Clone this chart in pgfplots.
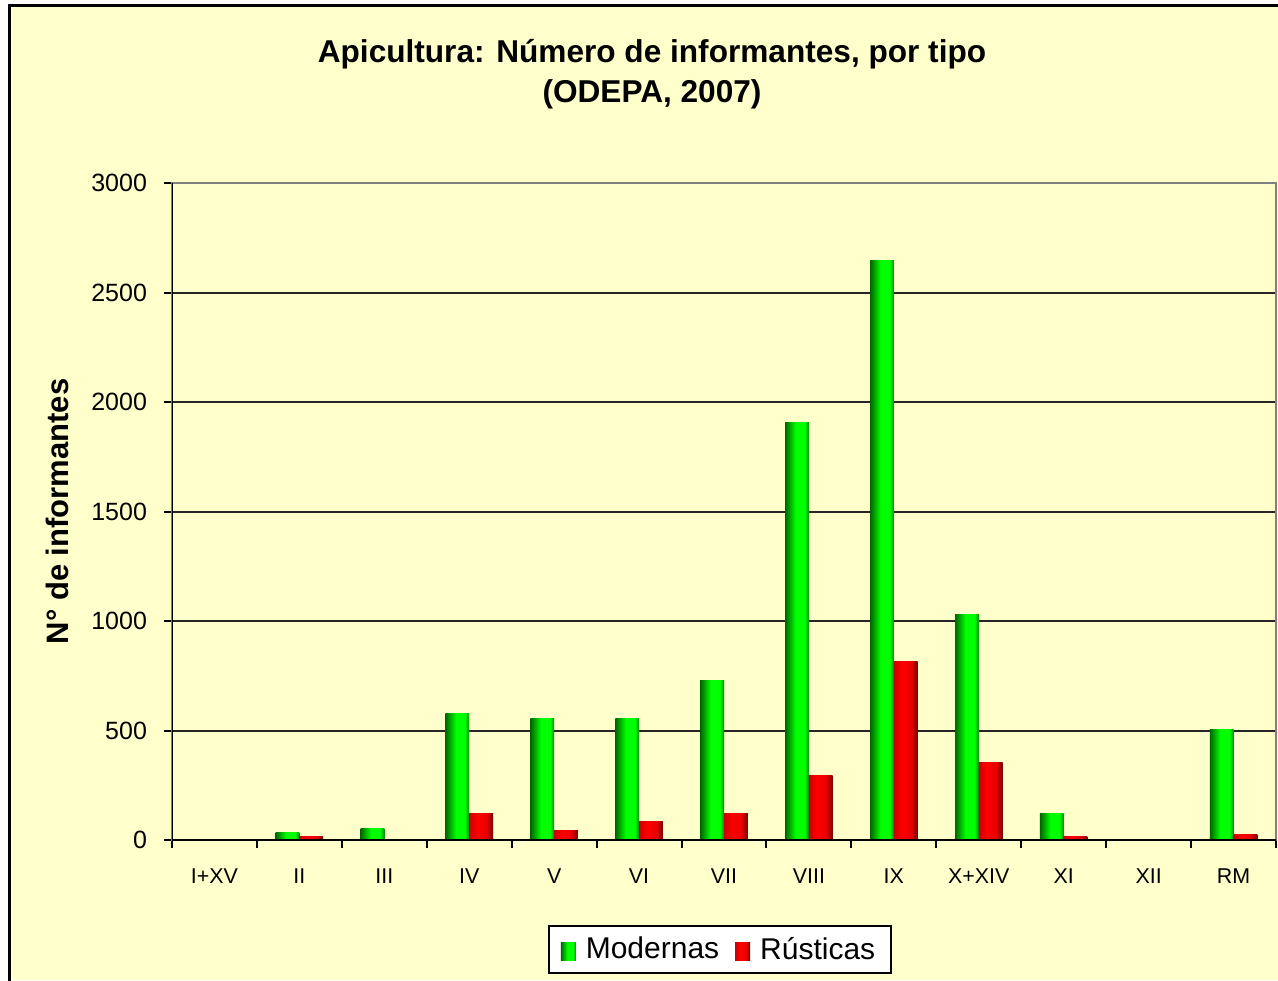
\documentclass[border=0pt]{standalone}
\usepackage{fontspec}
\setmainfont{Liberation Sans}
\usepackage{pgfplots}
\pgfplotsset{compat=1.18}

\definecolor{chartbg}{RGB}{255,255,204}
\definecolor{gridgray}{RGB}{128,128,128}
% bar gradients (the bar fills the 25bp..75bp band)
\pgfdeclarehorizontalshading{greenbar}{100bp}{color(0bp)=(green!40!black); color(25bp)=(green!40!black); color(47bp)=(green); color(66bp)=(green); color(75bp)=(green!55!black); color(100bp)=(green!55!black)}
\pgfdeclarehorizontalshading{redbar}{100bp}{color(0bp)=(red!80!black); color(25bp)=(red!80!black); color(42bp)=(red); color(62bp)=(red!90!black); color(75bp)=(red!45!black); color(100bp)=(red!45!black)}

\pgfplotsset{
  modernas/.style={ybar, bar shift=-0.14, draw=none, shade, shading=greenbar},
  rusticas/.style={ybar, bar shift=0.14, draw=none, shade, shading=redbar},
}
% one plot per bar, so each bar gets its own gradient
\newcommand{\gbar}[2]{\addplot[modernas, forget plot] coordinates {(#1,#2)};}
\newcommand{\rbar}[2]{\addplot[rusticas, forget plot] coordinates {(#1,#2)};}

\begin{document}
\begin{tikzpicture}
  % frame: 1px = 0.5pt
  \path[use as bounding box, fill=white] (0,0) rectangle (639pt,490pt);
  \fill[chartbg] (4.5pt,0) rectangle (639pt,487pt);
  \draw[black, line width=1.5pt] (4.5pt,-1pt) -- (4.5pt,487pt) -- (640pt,487pt);

  \node[font=\bfseries\fontsize{15.8}{18}\selectfont, anchor=base] at (326pt,458.5pt)
    {Apicultura: Número de informantes, por tipo};
  \node[font=\bfseries\fontsize{15.8}{18}\selectfont, anchor=base] at (326pt,438.5pt)
    {(ODEPA, 2007)};

  \begin{axis}[
    at={(86pt,70pt)}, anchor=south west,
    scale only axis, width=552pt, height=328.5pt,
    bar width=0.28,
    xmin=-0.5, xmax=12.5,
    ymin=0, ymax=3000,
    ytick={0,500,...,3000},
    xtick={-0.5,0.5,...,12.5},
    x tick label as interval,
    xticklabels={I+XV,II,III,IV,V,VI,VII,VIII,IX,X+XIV,XI,XII,RM},
    xtick pos=bottom, ytick pos=left,
    tick align=outside,
    major tick length=4pt,
    tick style={black, line width=1pt},
    ymajorgrids,
    major grid style={black!85, line width=1pt},
    axis line style={draw=gridgray, line width=1pt},
    /pgf/number format/assume math mode=true,
    /pgf/number format/1000 sep={},
    yticklabel style={font=\fontsize{12.5}{14}\selectfont, xshift=-5pt},
    xticklabel style={font=\fontsize{10.7}{12}\selectfont, yshift=-7pt},
    ylabel={N° de informantes},
    ylabel style={font=\bfseries\fontsize{15.5}{18}\selectfont,
      at={(axis description cs:-0.1042,0.5)}, anchor=center},
    legend style={at={(axis description cs:0.4964,-0.1667)}, anchor=center,
      draw=black, line width=1pt, fill=white,
      font=\fontsize{15}{18}\selectfont, legend columns=2,
      inner xsep=6pt, inner ysep=3.5pt,
      /tikz/every odd column/.append style={column sep=3pt},
      /tikz/every even column/.append style={column sep=6pt}},
    legend image code/.code={\path[#1, draw=none] (0pt,-5.5pt) rectangle (7.5pt,3.5pt);},
  ]
    % Modernas
    \addplot[modernas] coordinates {(1,34)};
    \addlegendentry{Modernas}
    \gbar{2}{52}  \gbar{3}{577} \gbar{4}{554} \gbar{5}{554}
    \gbar{6}{728} \gbar{7}{1905} \gbar{8}{2648} \gbar{9}{1028}
    \gbar{10}{121} \gbar{12}{503}
    % Rusticas
    \addplot[rusticas] coordinates {(1,15)};
    \addlegendentry{Rústicas}
    \rbar{3}{121} \rbar{4}{43} \rbar{5}{84} \rbar{6}{121}
    \rbar{7}{296} \rbar{8}{817} \rbar{9}{356} \rbar{10}{15} \rbar{12}{25}
    \draw[black, line width=1pt] (rel axis cs:0,1) -- (rel axis cs:0,0) -- (rel axis cs:1,0);
  \end{axis}
\end{tikzpicture}
\end{document}
